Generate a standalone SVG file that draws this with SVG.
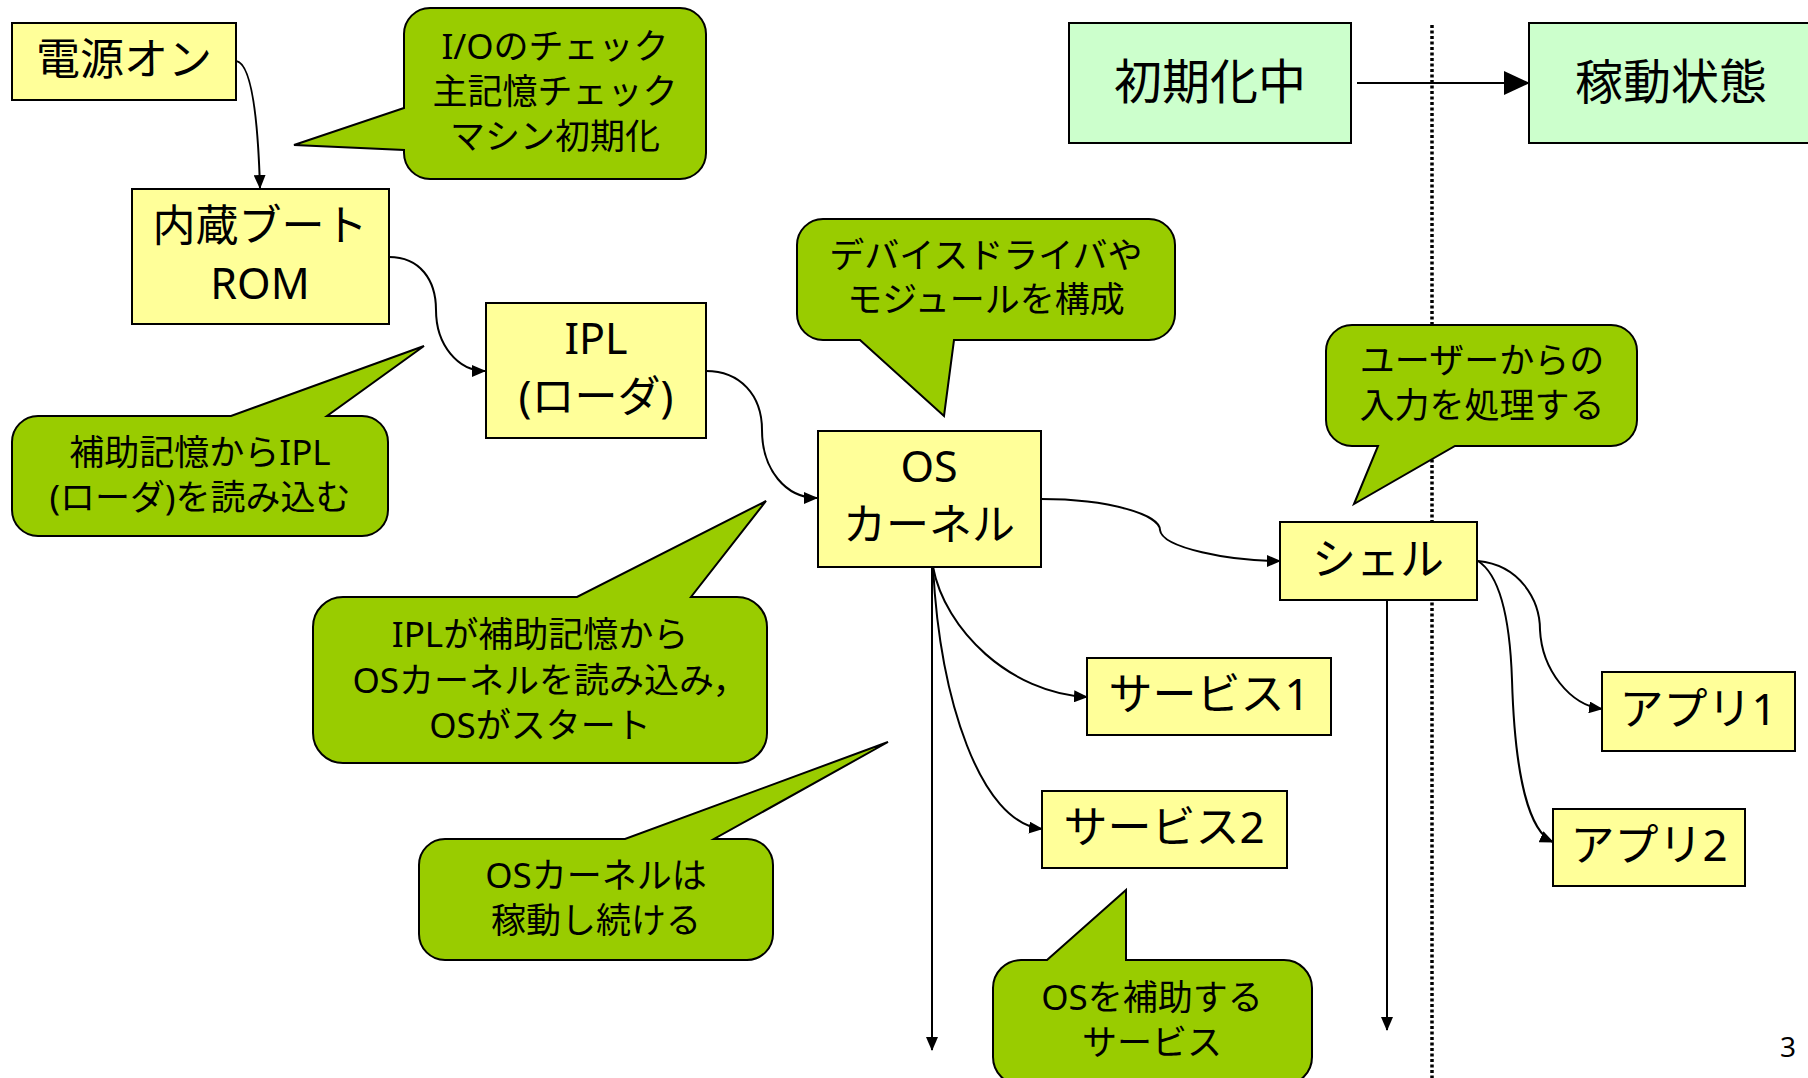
<svg xmlns="http://www.w3.org/2000/svg" width="1808" height="1078" viewBox="0 0 1808 1078">
<defs>
<style>
text{font-family:"Noto Sans","Noto Sans CJK JP",sans-serif;text-anchor:middle;dominant-baseline:central;fill:#000}
.node rect{fill:#FFFF99;stroke:#000;stroke-width:2}
.state rect{fill:#CCFFCC;stroke:#000;stroke-width:2}
.node text{font-size:44px}
.node text.two{font-size:43px}
.state text{font-size:48px}
.callout path{fill:#99CC00;stroke:#000;stroke-width:2;stroke-linejoin:miter}
.callout text{font-size:35px}
.conn path,.conn line{fill:none;stroke:#000;stroke-width:2}
</style>
<marker id="arr" viewBox="0 0 14 12" markerWidth="14" markerHeight="12" refX="13" refY="6" orient="auto" markerUnits="userSpaceOnUse"><path d="M0,0 L14,6 L0,12 Z" fill="#000"/></marker>
<marker id="arrBig" viewBox="0 0 26 24" markerWidth="26" markerHeight="24" refX="25" refY="12" orient="auto" markerUnits="userSpaceOnUse"><path d="M0,0 L26,12 L0,24 Z" fill="#000"/></marker>
</defs>
<rect width="1808" height="1078" fill="#fff"/>

<line x1="1432" y1="25" x2="1432" y2="1078" stroke="#000" stroke-width="3.5" stroke-dasharray="3 2.5"/>

<g id="connectors" class="conn">
<path d="M236 61 C252 63 258 120 260 188" marker-end="url(#arr)"/>
<path d="M389 257 C420 257 436 280 436 310 C436 345 458 371 485 371" marker-end="url(#arr)"/>
<path d="M706 371 C740 371 762 395 762 430 C762 470 786 498 817 498" marker-end="url(#arr)"/>
<path d="M1041 499 C1110 499 1160 515 1160 530 C1162 548 1230 561 1280 561" marker-end="url(#arr)"/>
<path d="M933 567 C945 630 1010 693 1087 697" marker-end="url(#arr)"/>
<path d="M933 567 C940 700 980 822 1042 829" marker-end="url(#arr)"/>
<line x1="932" y1="567" x2="932" y2="1050" marker-end="url(#arr)"/>
<line x1="1387" y1="601" x2="1387" y2="1030" marker-end="url(#arr)"/>
<path d="M1478 561 C1520 565 1540 600 1540 630 C1542 670 1570 705 1602 709" marker-end="url(#arr)"/>
<path d="M1478 561 C1500 575 1510 620 1512 680 C1515 780 1530 832 1553 842" marker-end="url(#arr)"/>
<line x1="1357" y1="83" x2="1529" y2="83" marker-end="url(#arrBig)"/>
</g>

<g id="n-power" class="node"><rect x="12" y="23" width="224" height="77"/><text x="124" y="58">電源オン</text></g>
<g id="n-rom" class="node"><rect x="132" y="189" width="257" height="135"/><text class="two"><tspan x="260" y="224">内蔵ブート</tspan><tspan x="260" y="282">ROM</tspan></text></g>
<g id="n-ipl" class="node"><rect x="486" y="303" width="220" height="135"/><text class="two"><tspan x="596" y="337">IPL</tspan><tspan x="596" y="395">(ローダ)</tspan></text></g>
<g id="n-os" class="node"><rect x="818" y="431" width="223" height="136"/><text class="two"><tspan x="929" y="465">OS</tspan><tspan x="929" y="523">カーネル</tspan></text></g>
<g id="n-shell" class="node"><rect x="1280" y="522" width="197" height="78"/><text x="1378" y="558">シェル</text></g>
<g id="n-svc1" class="node"><rect x="1087" y="658" width="244" height="77"/><text x="1209" y="693">サービス1</text></g>
<g id="n-svc2" class="node"><rect x="1042" y="791" width="245" height="77"/><text x="1164" y="826">サービス2</text></g>
<g id="n-app1" class="node"><rect x="1602" y="672" width="193" height="79"/><text x="1698" y="708">アプリ1</text></g>
<g id="n-app2" class="node"><rect x="1553" y="809" width="192" height="77"/><text x="1649" y="844">アプリ2</text></g>
<g id="n-init" class="state"><rect x="1069" y="23" width="282" height="120"/><text x="1210" y="80">初期化中</text></g>
<g id="n-run" class="state"><rect x="1529" y="23" width="290" height="120"/><text x="1671" y="80">稼動状態</text></g>

<g id="c-io" class="callout"><path d="M430 8 H680 A26 26 0 0 1 706 34 V153 A26 26 0 0 1 680 179 H430 A26 26 0 0 1 404 153 V150 L294 145 L404 108 V34 A26 26 0 0 1 430 8 Z"/><text><tspan x="555" y="45">I/Oのチェック</tspan><tspan x="555" y="90">主記憶チェック</tspan><tspan x="555" y="135">マシン初期化</tspan></text></g>
<g id="c-ipl" class="callout"><path d="M38 416 H231 L424 346 L327 416 H362 A26 26 0 0 1 388 442 V510 A26 26 0 0 1 362 536 H38 A26 26 0 0 1 12 510 V442 A26 26 0 0 1 38 416 Z"/><text><tspan x="200" y="451">補助記憶からIPL</tspan><tspan x="200" y="496">(ローダ)を読み込む</tspan></text></g>
<g id="c-os" class="callout"><path d="M343 597 H577 L766 501 L691 597 H737 A30 30 0 0 1 767 627 V733 A30 30 0 0 1 737 763 H343 A30 30 0 0 1 313 733 V627 A30 30 0 0 1 343 597 Z"/><text><tspan x="540" y="633">IPLが補助記憶から</tspan><tspan x="550" y="679">OSカーネルを読み込み，</tspan><tspan x="540" y="724">OSがスタート</tspan></text></g>
<g id="c-run" class="callout"><path d="M445 839 H625 L888 742 L714 839 H747 A26 26 0 0 1 773 865 V934 A26 26 0 0 1 747 960 H445 A26 26 0 0 1 419 934 V865 A26 26 0 0 1 445 839 Z"/><text><tspan x="596" y="874">OSカーネルは</tspan><tspan x="596" y="919">稼動し続ける</tspan></text></g>
<g id="c-drv" class="callout"><path d="M823 219 H1149 A26 26 0 0 1 1175 245 V314 A26 26 0 0 1 1149 340 H954 L944 416 L860 340 H823 A26 26 0 0 1 797 314 V245 A26 26 0 0 1 823 219 Z"/><text><tspan x="986" y="254">デバイスドライバや</tspan><tspan x="986" y="298">モジュールを構成</tspan></text></g>
<g id="c-shell" class="callout"><path d="M1352 325 H1611 A26 26 0 0 1 1637 351 V420 A26 26 0 0 1 1611 446 H1455 L1354 504 L1378 446 H1352 A26 26 0 0 1 1326 420 V351 A26 26 0 0 1 1352 325 Z"/><text><tspan x="1482" y="359">ユーザーからの</tspan><tspan x="1482" y="404">入力を処理する</tspan></text></g>
<g id="c-svc" class="callout"><path d="M1021 960 H1047 L1126 890 V960 H1284 A28 28 0 0 1 1312 988 V1057 A28 28 0 0 1 1284 1085 H1021 A28 28 0 0 1 993 1057 V988 A28 28 0 0 1 1021 960 Z"/><text><tspan x="1152" y="996">OSを補助する</tspan><tspan x="1152" y="1041">サービス</tspan></text></g>

<text x="1788" y="1046" style="font-size:28px">3</text>
</svg>
